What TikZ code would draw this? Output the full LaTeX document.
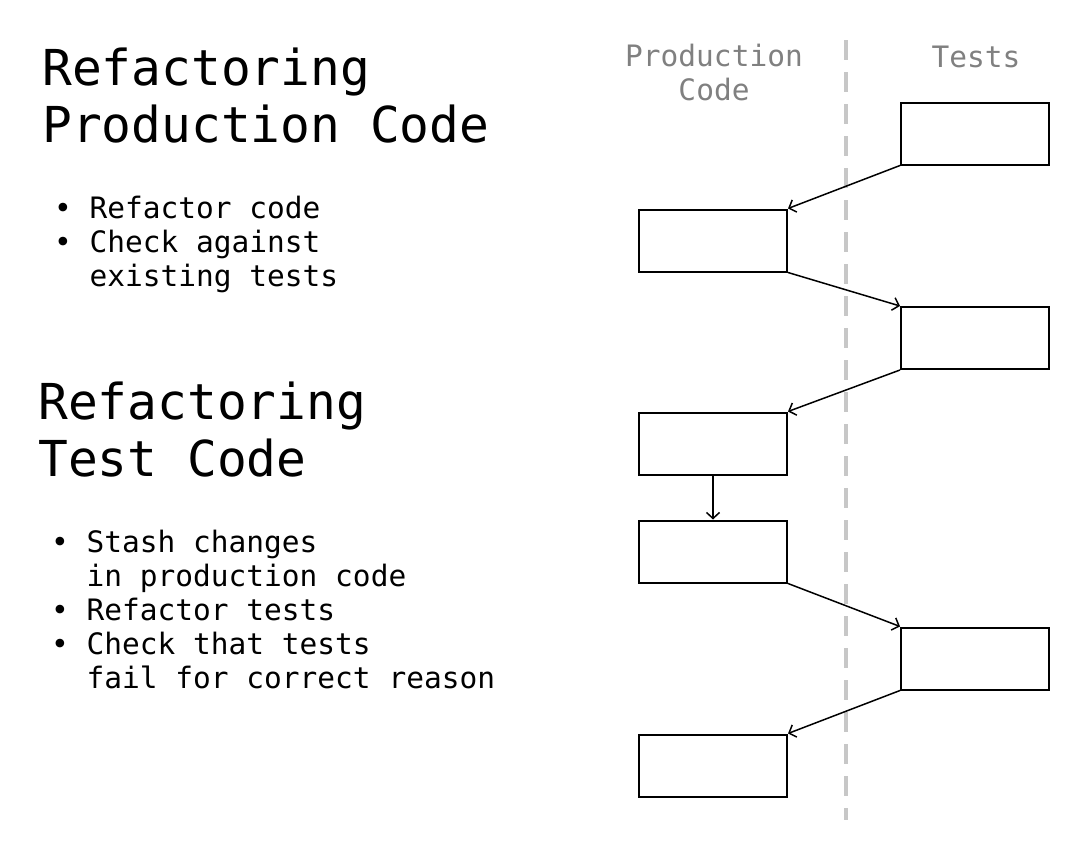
\documentclass[tikz,border=0pt]{standalone}
\usepackage{fontspec}
\setmonofont{DejaVu Sans Mono}
\usetikzlibrary{arrows.meta}

\begin{document}
\begin{tikzpicture}[x=1bp, y=-1bp,
    title/.style={anchor=base west, align=left, inner sep=0pt, font=\ttfamily\fontsize{49.7}{57}\selectfont},
    bullets/.style={anchor=base west, align=left, inner sep=0pt, font=\ttfamily\fontsize{29.6}{34}\selectfont},
    lane/.style={anchor=base, align=center, inner sep=0pt, text=black!50, font=\ttfamily\fontsize{29.6}{34}\selectfont},
    stepbox/.style={draw, line width=2bp, minimum width=148bp, minimum height=62bp, inner sep=0pt},
    flow/.style={-{Straight Barb[length=6bp, width=13bp]}, line width=1.5bp},
    divider/.style={draw=black!22, line width=3.5bp, dash pattern=on 20bp off 12bp}]
        \useasboundingbox (0,0) rectangle (1090,860);

        % left side: text (placed at the baseline of the last line)
        \node[title] (titleprod) at (42, 142) {Refactoring\\Production Code};
        \node[bullets] (listprod) at (54, 286) {• Refactor code\\• Check against\\\phantom{•~}existing tests};
        \node[title] (titletest) at (38, 476) {Refactoring\\Test Code};
        \node[bullets] (listtest) at (51, 688) {• Stash changes\\\phantom{•~}in production code\\• Refactor tests\\• Check that tests\\\phantom{•~}fail for correct reason};

        % lanes
        \node[lane] (headprod) at (714, 100) {Production\\Code};
        \node[lane] (headtests) at (976, 67) {Tests};
        \coordinate (divtop) at (846, 40);
        \coordinate (divbot) at (846, 820);
        \draw[divider] (divtop) -- (divbot);

        % steps
        \node[stepbox] (tst1) at (975, 133.5) {};
        \node[stepbox] (prd1) at (713, 240.5) {};
        \node[stepbox] (tst2) at (975, 338) {};
        \node[stepbox] (prd2) at (713, 443.5) {};
        \node[stepbox] (prd3) at (713, 551.5) {};
        \node[stepbox] (tst3) at (975, 658.5) {};
        \node[stepbox] (prd4) at (713, 765.5) {};

        \draw[flow] (tst1.south west) -- (prd1.north east);
        \draw[flow] (prd1.south east) -- (tst2.north west);
        \draw[flow] (tst2.south west) -- (prd2.north east);
        \draw[flow] (prd2.south) -- (prd3.north);
        \draw[flow] (prd3.south east) -- (tst3.north west);
        \draw[flow] (tst3.south west) -- (prd4.north east);
\end{tikzpicture}
\end{document}
